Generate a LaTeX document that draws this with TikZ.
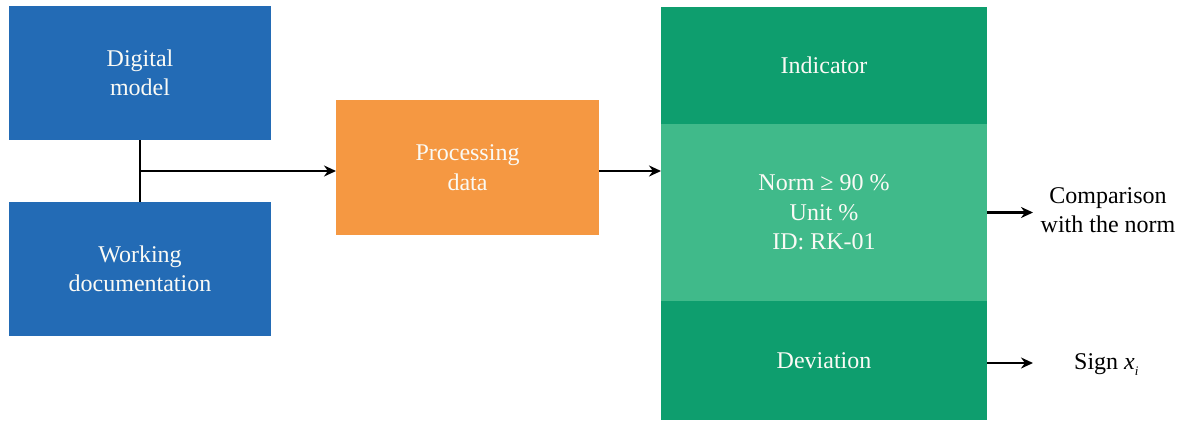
\documentclass[tikz,border=0pt]{standalone}
\usepackage{fontspec}
\setmainfont{Liberation Serif}
\usetikzlibrary{arrows.meta,calc}
\definecolor{cblue}{RGB}{35,107,181}
\definecolor{corange}{RGB}{245,152,66}
\definecolor{cdark}{RGB}{14,158,110}
\definecolor{clight}{RGB}{64,186,138}
\definecolor{ctext}{RGB}{250,250,245}
\tikzset{
  box/.style={inner sep=0pt, outer sep=0pt, text=ctext, align=center,
    font=\fontsize{24}{29.5}\selectfont},
  lbl/.style={inner sep=0pt, align=center, text=black,
    font=\fontsize{24}{29.5}\selectfont},
  conn/.style={line width=2.2pt, black},
  arr/.style={conn, -{Stealth[length=12pt,width=11pt]}}
}
\begin{document}
\begin{tikzpicture}[x=1pt,y=-1pt]
\useasboundingbox (0,0) rectangle (1182,420);
\fill[white] (0,0) rectangle (1182,420);
\node[box, fill=cblue, minimum width=262pt, minimum height=134pt] (b1) at (140,73) {Digital\\model};
\node[box, fill=cblue, minimum width=262pt, minimum height=134pt] (b2) at (140,269) {Working\\documentation};
\node[box, fill=corange, minimum width=263pt, minimum height=135pt] (proc) at (467.5,167.5) {Processing\\data};
\node[box, fill=cdark, minimum width=326pt, minimum height=117pt] (ind) at (824,65.5) {Indicator};
\node[box, fill=clight, minimum width=326pt, minimum height=177pt] (mid) at (824,212.5) {Norm ≥ 90 \%\\Unit \%\\ID: RK-01};
\node[box, fill=cdark, minimum width=326pt, minimum height=119pt] (dev) at (824,360.5) {Deviation};
\node[lbl] (cmp) at (1108,210) {Comparison\\with the norm};
\node[lbl, anchor=west] (sgn) at (1074,365) {Sign \textit{x}\raisebox{-6pt}{\fontsize{13}{13}\selectfont\textit{i}}};
\coordinate (j) at ($(b1.south)+(0,31)$);
\draw[conn] (b1.south) -- (b2.north);
\draw[arr] (j) -- (j -| proc.west);
\draw[arr] (proc.east |- j) -- (j -| mid.west);
\coordinate (c1) at (1033,212.5);
\coordinate (c2) at (1033,363);
\draw[arr] (mid.east) -- (c1);
\draw[arr] (dev.east |- c2) -- (c2);
\end{tikzpicture}
\end{document}
